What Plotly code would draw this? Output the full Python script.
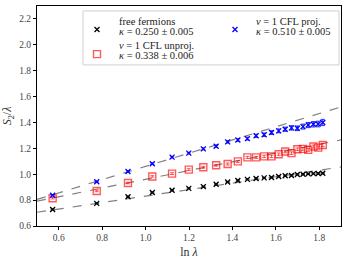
import plotly.graph_objects as go

# ln(lambda) values of the data points
ln_lam = [0.572, 0.775, 0.919, 1.031, 1.122, 1.199, 1.266, 1.325, 1.378, 1.425,
          1.469, 1.509, 1.546, 1.580, 1.613, 1.643, 1.672, 1.699, 1.725, 1.749,
          1.773, 1.795, 1.816]

free_y = [0.727, 0.775, 0.826, 0.859, 0.876, 0.891, 0.904, 0.922, 0.940, 0.952,
          0.960, 0.967, 0.972, 0.975, 0.983, 0.988, 0.990, 0.998, 1.000, 1.003,
          1.005, 1.006, 1.007]
free_err = [0.004] * 23

unproj_y = [0.815, 0.871, 0.932, 0.983, 1.005, 1.036, 1.054, 1.069, 1.079, 1.099,
            1.130, 1.130, 1.138, 1.138, 1.155, 1.176, 1.163, 1.193, 1.196, 1.188,
            1.214, 1.206, 1.226]
unproj_err = [0.006, 0.006, 0.006, 0.006, 0.007, 0.007, 0.007, 0.007, 0.008, 0.008,
              0.008, 0.008, 0.009, 0.009, 0.009, 0.010, 0.010, 0.010, 0.011, 0.011,
              0.012, 0.012, 0.013]

proj_y = [0.838, 0.942, 1.021, 1.081, 1.132, 1.163, 1.196, 1.216, 1.250, 1.265,
          1.275, 1.297, 1.305, 1.322, 1.335, 1.348, 1.358, 1.355, 1.368, 1.380,
          1.386, 1.388, 1.400]
proj_err = [0.005, 0.005, 0.006, 0.006, 0.007, 0.007, 0.008, 0.008, 0.009, 0.010,
            0.011, 0.012, 0.013, 0.014, 0.015, 0.016, 0.017, 0.018, 0.019, 0.020,
            0.021, 0.022, 0.024]

# fitted lines (end points)
fit_x = [0.5, 1.9]
fit_free = [0.706, 1.056]
fit_unproj = [0.792, 1.265]
fit_proj = [0.805, 1.520]

legend_line1 = ["free fermions", "<i>ν</i> = 1 CFL unproj.", "<i>ν</i> = 1 CFL proj."]
legend_line2 = ["<i>κ</i> = 0.250 ± 0.005", "<i>κ</i> = 0.338 ± 0.006", "<i>κ</i> = 0.510 ± 0.005"]

FONT = "Liberation Serif"
W, H = 349, 262
ML, MR, MT, MB = 37, 8, 5, 33
PW, PH = W - ML - MR, H - MT - MB


def px(xp):
    return (xp - ML) / PW


def py(yp):
    return 1 - (yp - MT) / PH


fig = go.Figure()

for fy in [fit_free, fit_unproj, fit_proj]:
    fig.add_trace(go.Scatter(x=fit_x, y=fy, mode="lines", showlegend=False,
                             line=dict(color="gray", width=1.2, dash="dash")))

fig.add_trace(go.Scatter(
    x=ln_lam, y=free_y, mode="markers", name=" ", legend="legend",
    error_y=dict(type="data", array=free_err, color="black", thickness=0.8, width=2),
    marker=dict(symbol="x-thin", size=5, color="black", line=dict(width=1.3, color="black"))))

fig.add_trace(go.Scatter(
    x=ln_lam, y=unproj_y, mode="markers", name=" ", legend="legend3",
    error_y=dict(type="data", array=unproj_err, color="rgba(255,0,0,0.8)", thickness=0.8, width=2),
    marker=dict(symbol="square-open", size=7, color="rgba(255,0,0,0.65)",
                line=dict(width=1.4, color="rgba(255,0,0,0.65)"))))

fig.add_trace(go.Scatter(
    x=ln_lam, y=proj_y, mode="markers", name=" ", legend="legend2",
    error_y=dict(type="data", array=proj_err, color="blue", thickness=0.8, width=2),
    marker=dict(symbol="x-thin", size=5, color="blue", line=dict(width=1.3, color="blue"))))

axis_common = dict(showline=True, linecolor="black", linewidth=1, mirror=True,
                   ticks="outside", ticklen=3, tickcolor="black", showgrid=False,
                   zeroline=False, tickfont=dict(family=FONT, size=9.5, color="#444"))

leg_common = dict(xanchor="left", yanchor="middle", bgcolor="rgba(0,0,0,0)",
                  font=dict(family=FONT, size=10), itemwidth=30)

annotations = []
text_pos = [(117, 20.5, 30.5), (117, 45.5, 55.5), (254, 20.5, 30.5)]
for (tx, y1, y2), l1, l2 in zip(text_pos, legend_line1, legend_line2):
    for yy, t in [(y1, l1), (y2, l2)]:
        annotations.append(dict(xref="paper", yref="paper", x=px(tx), y=py(yy), text=t,
                                showarrow=False, xanchor="left", yanchor="middle",
                                font=dict(family=FONT, size=10.5, color="#222")))

fig.update_layout(
    width=W, height=H,
    margin=dict(l=ML, r=MR, t=MT, b=MB),
    plot_bgcolor="white", paper_bgcolor="white",
    font=dict(family=FONT, size=10, color="black"),
    xaxis=dict(range=[0.5, 1.9], tickvals=[0.6, 0.8, 1.0, 1.2, 1.4, 1.6, 1.8],
               ticktext=["0.6", "0.8", "1.0", "1.2", "1.4", "1.6", "1.8"],
               title=dict(text="ln <i>λ</i>", font=dict(family=FONT, size=12, color="#333"), standoff=5),
               **axis_common),
    yaxis=dict(range=[0.6, 2.3], tickvals=[0.6, 0.8, 1.0, 1.2, 1.4, 1.6, 1.8, 2.0, 2.2],
               ticktext=["0.6", "0.8", "1.0", "1.2", "1.4", "1.6", "1.8", "2.0", "2.2"],
               title=dict(text="<i>S</i><sub>2</sub>/<i>λ</i>", font=dict(family=FONT, size=12, color="#333"), standoff=5),
               **axis_common),
    legend=dict(x=px(77), y=py(29), **leg_common),
    legend2=dict(x=px(215), y=py(29), **leg_common),
    legend3=dict(x=px(77), y=py(54), **leg_common),
    shapes=[dict(type="rect", xref="paper", yref="paper", x0=px(83), x1=px(339), y0=py(65), y1=py(10),
                 line=dict(color="#d0d0d0", width=1), fillcolor="rgba(255,255,255,0.8)", layer="above")],
    annotations=annotations,
)

fig.write_html("out.html", config={"displayModeBar": False},
               post_script="document.body.style.margin='0';")
